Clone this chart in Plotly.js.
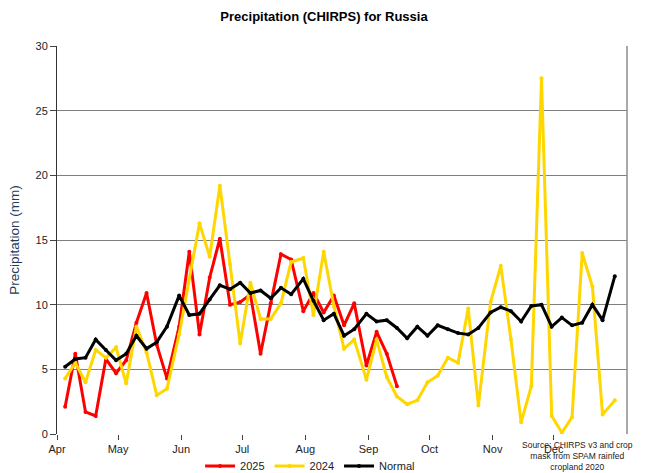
<!DOCTYPE html>
<html>
<head>
<meta charset="utf-8">
<script src="https://cdn.plot.ly/plotly-3.0.1.min.js"></script>
<style>html,body{margin:0;padding:0;background:#fff;}#chart{width:648px;height:473px;}</style>
</head>
<body>
<div id="chart"></div>
<script>
// Pentad end dates (plotted on a common 2025 calendar)
const dates = [
  '2025-04-05','2025-04-10','2025-04-15','2025-04-20','2025-04-25','2025-04-30',
  '2025-05-05','2025-05-10','2025-05-15','2025-05-20','2025-05-25','2025-05-31',
  '2025-06-05','2025-06-10','2025-06-15','2025-06-20','2025-06-25','2025-06-30',
  '2025-07-05','2025-07-10','2025-07-15','2025-07-20','2025-07-25','2025-07-31',
  '2025-08-05','2025-08-10','2025-08-15','2025-08-20','2025-08-25','2025-08-31',
  '2025-09-05','2025-09-10','2025-09-15','2025-09-20','2025-09-25','2025-09-30',
  '2025-10-05','2025-10-10','2025-10-15','2025-10-20','2025-10-25','2025-10-31',
  '2025-11-05','2025-11-10','2025-11-15','2025-11-20','2025-11-25','2025-11-30',
  '2025-12-05','2025-12-10','2025-12-15','2025-12-20','2025-12-25','2025-12-31'
];

// Month tick positions and labels
const monthTicks = ['2025-04-01','2025-05-01','2025-06-01','2025-07-01','2025-08-01',
                    '2025-09-01','2025-10-01','2025-11-01','2025-12-01'];
const monthLabels = ['Apr','May','Jun','Jul','Aug','Sep','Oct','Nov','Dec'];

const precip2025 = [
  2.1, 6.2, 1.7, 1.4, 5.8, 4.7,
  5.7, 8.6, 10.9, 6.9, 4.3, 8.3,
  14.1, 7.7, 12.1, 15.1, 10.0, 10.2,
  10.8, 6.2, 10.1, 13.9, 13.5, 9.5,
  10.9, 9.4, 10.7, 8.4, 10.1, 5.3,
  7.9, 6.2, 3.7
];

const precip2024 = [
  4.3, 5.5, 4.0, 6.5, 5.9, 6.7,
  3.9, 8.3, 6.3, 3.0, 3.5, 7.7,
  12.0, 16.3, 13.7, 19.2, 13.1, 7.0,
  11.7, 8.9, 8.9, 10.1, 13.3, 13.6,
  9.2, 14.1, 9.9, 6.6, 7.3, 4.2,
  7.3, 4.4, 2.9, 2.3, 2.6, 4.0,
  4.5, 5.9, 5.5, 9.7, 2.2, 10.2,
  13.0, 7.3, 0.9, 3.7, 27.5, 1.4,
  0.1, 1.3, 14.0, 11.4, 1.5, 2.6
];

const precipNormal = [
  5.2, 5.8, 5.9, 7.3, 6.5, 5.7,
  6.2, 7.6, 6.6, 7.1, 8.3, 10.7,
  9.2, 9.3, 10.4, 11.5, 11.2, 11.7,
  10.9, 11.1, 10.5, 11.3, 10.8, 12.0,
  10.3, 8.8, 9.3, 7.6, 8.1, 9.3,
  8.7, 8.8, 8.2, 7.4, 8.3, 7.6,
  8.4, 8.1, 7.8, 7.7, 8.2, 9.4,
  9.8, 9.5, 8.7, 9.9, 10.0, 8.3,
  9.0, 8.4, 8.6, 10.0, 8.8, 12.2
];

const seriesNames = ['2025', '2024', 'Normal'];
const seriesColors = ['#ff0000', '#ffd700', '#000000'];
const seriesValues = [precip2025, precip2024, precipNormal];

const traces = seriesValues.map((vals, k) => ({
  type: 'scatter',
  mode: 'lines+markers',
  name: seriesNames[k],
  x: dates.slice(0, vals.length),
  y: vals,
  line: {color: seriesColors[k], width: 3},
  marker: {color: seriesColors[k], size: 4}
}));

const baseFont = 'Liberation Sans, Arial, sans-serif';

const layout = {
  width: 648,
  height: 473,
  paper_bgcolor: '#ffffff',
  plot_bgcolor: '#ffffff',
  margin: {l: 57, r: 21, t: 46, b: 39, autoexpand: false},
  font: {family: baseFont, size: 11, color: '#222222'},
  title: {
    text: '<b>Precipitation (CHIRPS) for Russia</b>',
    font: {family: 'Liberation Sans Narrow, Arial Narrow, Liberation Sans, Arial, sans-serif', size: 13, color: '#000000'},
    x: 0.5, xanchor: 'center', y: 0.966, yanchor: 'middle'
  },
  xaxis: {
    type: 'date',
    range: ['2025-04-01', '2026-01-06'],
    tickvals: monthTicks,
    ticktext: monthLabels,
    ticks: 'outside',
    ticklen: 5,
    tickcolor: '#444444',
    showgrid: false,
    showline: false,
    zeroline: false,
    tickfont: {family: baseFont, size: 11, color: '#222222'}
  },
  yaxis: {
    range: [0, 30],
    tick0: 0,
    dtick: 5,
    ticks: 'outside',
    ticklen: 6,
    tickcolor: '#444444',
    showgrid: true,
    gridcolor: '#7f7f7f',
    gridwidth: 1,
    zeroline: false,
    showline: true,
    linecolor: '#333333',
    linewidth: 1,
    tickfont: {family: baseFont, size: 11, color: '#222222'},
    title: {text: 'Precipitation (mm)', font: {family: baseFont, size: 13.5, color: '#1f3b5a'}, standoff: 12}
  },
  shapes: [
    {type: 'line', xref: 'paper', yref: 'paper', x0: 1, x1: 1, y0: 0, y1: 1,
     line: {color: '#8c8c8c', width: 1.5}}
  ],
  showlegend: true,
  legend: {
    orientation: 'h',
    x: 0.444, xanchor: 'center',
    y: -0.045, yanchor: 'top',
    font: {family: baseFont, size: 11, color: '#222222'},
    bgcolor: 'rgba(0,0,0,0)',
    tracegroupgap: 0
  },
  annotations: [
    {
      xref: 'paper', yref: 'paper',
      x: 0.914, y: -0.057, xanchor: 'center', yanchor: 'middle',
      text: 'Source: CHIRPS v3 and crop<br>mask from SPAM rainfed<br>cropland 2020',
      showarrow: false, align: 'center',
      font: {family: baseFont, size: 8.5, color: '#222222'}
    }
  ]
};

Plotly.newPlot('chart', traces, layout, {displayModeBar: false, staticPlot: true});
</script>
</body>
</html>
